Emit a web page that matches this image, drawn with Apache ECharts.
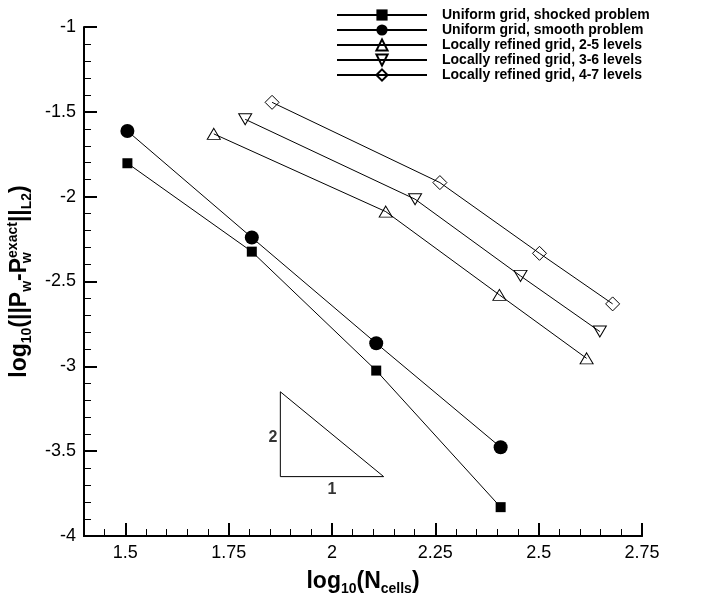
<!DOCTYPE html>
<html>
<head>
<meta charset="utf-8">
<script src="https://cdn.jsdelivr.net/npm/echarts@6/dist/echarts.min.js"></script>
<style>
  html, body { margin: 0; padding: 0; background: #fff; }
  #main { width: 727px; height: 598px; }
</style>
</head>
<body>
<div id="main"></div>
<script>
// data: [log10(Ncells), log10(error)]
const shocked = [[1.505, -1.803], [1.806, -2.324], [2.107, -3.025], [2.408, -3.830]]
const smooth = [[1.505, -1.613], [1.806, -2.241], [2.107, -2.864], [2.408, -3.477]]
const refined25 = [[1.714, -1.630], [2.130, -2.088], [2.405, -2.579], [2.616, -2.953]]
const refined36 = [[1.790, -1.544], [2.201, -2.015], [2.456, -2.467], [2.648, -2.795]]
const refined47 = [[1.855, -1.444], [2.261, -1.917], [2.502, -2.334], [2.679, -2.632]]
// slope triangle (2:1)
const slopeTri = [[1.875, -3.15], [1.875, -3.65], [2.125, -3.65], [1.875, -3.15]]
const slopeLabelPos = [[1.875, -3.42], [2.0, -3.65]]
const slopeLabelText = ['2', '1']

const names = [
  'Uniform grid, shocked problem',
  'Uniform grid, smooth problem',
  'Locally refined grid, 2-5 levels',
  'Locally refined grid, 3-6 levels',
  'Locally refined grid, 4-7 levels'
]
const xMajor = [1.5, 1.75, 2, 2.25, 2.5, 2.75]

const font = 'Liberation Sans, Arial, Helvetica, sans-serif'
const hollow = { color: 'rgba(0,0,0,0)', borderColor: '#000', borderWidth: 1 }

function lineSeries(name, data, symbol, size, itemStyle, rotate) {
  return {
    name: name,
    type: 'line',
    data: data,
    symbol: symbol,
    symbolSize: size,
    symbolRotate: rotate || 0,
    showSymbol: true,
    color: '#000',
    lineStyle: { color: '#000', width: 1 },
    itemStyle: itemStyle,
    z: 3
  }
}

const chart = echarts.init(document.getElementById('main'))
chart.setOption({
  animation: false,
  backgroundColor: '#fff',
  textStyle: { fontFamily: font, color: '#000' },
  grid: { left: 84, right: 85, top: 27, bottom: 62, containLabel: false, outerBoundsMode: 'none' },
  legend: {
    data: names,
    orient: 'vertical',
    left: 331,
    top: 3,
    itemWidth: 90,
    itemHeight: 14,
    itemGap: 1,
    selectedMode: false,
    textStyle: { fontFamily: font, fontSize: 14, fontWeight: 'bold', color: '#000', padding: [0, 0, 0, 10] }
  },
  xAxis: [
    {
      // minor ticks every 0.05 (drawn first, under the major axis)
      type: 'value',
      min: 1.4,
      max: 2.75,
      interval: 0.05,
      position: 'bottom',
      axisLine: { show: true, onZero: false, lineStyle: { color: '#000', width: 2 } },
      axisTick: { show: true, inside: true, length: 7, lineStyle: { color: '#000', width: 1 } },
      axisLabel: { show: true, formatter: () => '' },
      splitLine: { show: false }
    },
    {
      type: 'value',
      min: 1.4,
      max: 2.75,
      position: 'bottom',
      name: '{b|log}{s|10}{b|(N}{s|cells}{b|)}',
      nameLocation: 'middle',
      nameGap: 32,
      nameTextStyle: {
        rich: {
          b: { fontFamily: font, fontSize: 23, fontWeight: 'bold', color: '#000', lineHeight: 28 },
          s: { fontFamily: font, fontSize: 14, fontWeight: 'bold', color: '#000', lineHeight: 20, verticalAlign: 'bottom' }
        }
      },
      axisLine: { onZero: false, lineStyle: { color: '#000', width: 2 } },
      axisTick: { show: true, inside: true, length: 13, customValues: xMajor, lineStyle: { color: '#000', width: 2 } },
      axisLabel: { customValues: xMajor, margin: 8, fontFamily: font, fontSize: 18, color: '#000' },
      splitLine: { show: false }
    }
  ],
  yAxis: {
    type: 'value',
    min: -4,
    max: -1,
    interval: 0.5,
    name: '{b|log}{s|10}{b|(||P}{s|w}{b|-P}{sw|w}{sup|exact}{b|||}{s|L2}{b|)}',
    nameLocation: 'middle',
    nameRotate: 90,
    nameGap: 48,
    nameTextStyle: {
      rich: {
        b: { fontFamily: font, fontSize: 23, fontWeight: 'bold', color: '#000', lineHeight: 28 },
        s: { fontFamily: font, fontSize: 14, fontWeight: 'bold', color: '#000', lineHeight: 20, verticalAlign: 'bottom' },
        sw: { fontFamily: font, fontSize: 14, fontWeight: 'bold', color: '#000', lineHeight: 20, verticalAlign: 'bottom', width: 0, align: 'left' },
        sup: { fontFamily: font, fontSize: 14, fontWeight: 'bold', color: '#000', lineHeight: 14, verticalAlign: 'top' }
      }
    },
    axisLine: { lineStyle: { color: '#000', width: 2 } },
    axisTick: { inside: true, length: 13, lineStyle: { color: '#000', width: 2 } },
    minorTick: { show: true, splitNumber: 5, length: 7, lineStyle: { color: '#000', width: 1 } },
    axisLabel: { margin: 8, fontFamily: font, fontSize: 18, color: '#000' },
    splitLine: { show: false }
  },
  series: [
    lineSeries(names[0], shocked, 'rect', 10, { color: '#000' }),
    lineSeries(names[1], smooth, 'circle', 14, { color: '#000' }),
    lineSeries(names[2], refined25, 'triangle', [13, 11], hollow),
    lineSeries(names[3], refined36, 'triangle', [13, 11], hollow, 180),
    lineSeries(names[4], refined47, 'diamond', 14, hollow),
    {
      name: 'slope',
      type: 'line',
      xAxisIndex: 1,
      data: slopeTri,
      symbol: 'none',
      silent: true,
      lineStyle: { color: '#000', width: 1 }
    },
    {
      name: 'slopeLabels',
      type: 'scatter',
      xAxisIndex: 1,
      symbolSize: 0,
      silent: true,
      data: [
        { value: slopeLabelPos[0], name: slopeLabelText[0], label: { position: 'left', distance: 3 } },
        { value: slopeLabelPos[1], name: slopeLabelText[1], label: { position: 'bottom', distance: 5 } }
      ],
      label: {
        show: true,
        formatter: '{b}',
        fontFamily: font,
        fontSize: 16,
        fontWeight: 'bold',
        color: '#000'
      }
    }
  ]
})
</script>
</body>
</html>
